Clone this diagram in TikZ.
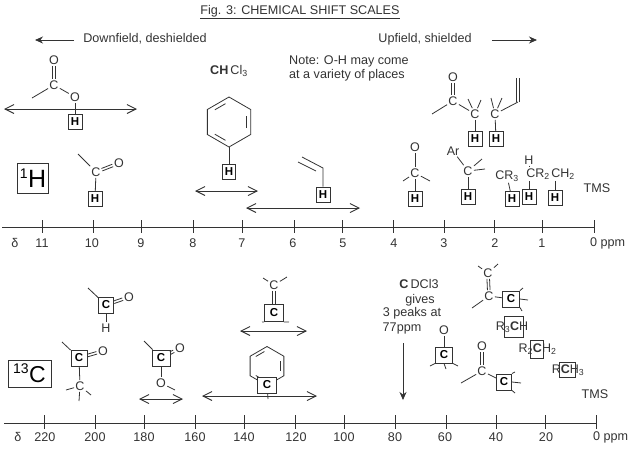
\documentclass[tikz,border=0pt]{standalone}
\usepackage{fontspec}
\setmainfont{Liberation Sans}
\usetikzlibrary{arrows.meta,shapes.geometric,calc}
\definecolor{ink}{gray}{0.2}
\tikzset{
	lbl/.style={inner sep=0pt,text=ink,font=\fontsize{12.6}{14}\selectfont},
	atom/.style={inner sep=1.2pt,text=ink,font=\fontsize{12.5}{12.5}\selectfont},
	bond/.style={line width=0.8pt,draw=ink},
	hbox/.style={draw=ink,line width=0.9pt,fill=white,inner sep=0pt,minimum width=14pt,minimum height=15pt,font=\fontsize{11.5}{11.5}\selectfont\bfseries},
	cbox/.style={draw=ink,line width=0.9pt,fill=white,inner sep=0pt,minimum width=16pt,minimum height=16pt,font=\fontsize{11.5}{11.5}\selectfont\bfseries},
	openbox/.style={draw=ink,line width=0.9pt,inner sep=0pt},
	nucbox/.style={draw=ink,line width=0.8pt,inner sep=0pt,text=black},
	spanarrow/.style={{Straight Barb[length=9pt,width=9pt]}-{Straight Barb[length=9pt,width=9pt]},line width=0.9pt,draw=ink},
	scaleline/.style={line width=0.8pt,draw=ink},
}
\newcommand{\stub}[3]{\coordinate (#2) at (#3); \draw[bond] (#1) -- (#2);}
\newcommand{\dblbond}[2]{\path (#1) -- (#2) coordinate[pos=0] (dbs) coordinate[pos=1] (dbe);
	\draw[bond] ($(dbs)!1.3pt!90:(dbe)$) -- ($(dbe)!1.3pt!-90:(dbs)$);
	\draw[bond] ($(dbs)!1.3pt!-90:(dbe)$) -- ($(dbe)!1.3pt!90:(dbs)$);}
\begin{document}
\begin{tikzpicture}[>={Stealth[length=8pt,width=7pt]},x=1pt,y=-1pt]
	\useasboundingbox (0,0) rectangle (630,448);
	\node[lbl] (title) at (300,12) {\underline{Fig. 3: CHEMICAL SHIFT SCALES}};
	
	\node[lbl] (down) at (145,39) {Downfield, deshielded};
	\coordinate (downend) at (35,40);
	\draw[->,bond] (down.west) ++(-9,1) -- (downend);
	\node[lbl] (up) at (425,39) {Upfield, shielded};
	\coordinate (upend) at (537,40);
	\draw[->,bond] (up.east) ++(20,1) -- (upend);
	\node[lbl,align=left,anchor=north west] (note) at (289,55) {Note: O-H may come\\at a variety of places};
	\node[lbl] (chcl) at (229,71) {\textbf{CH}\,Cl\textsubscript{3}};
	
	% proton scale
	\node[nucbox,minimum width=31pt,minimum height=30pt,font=\fontsize{25}{25}\selectfont] (proton) at (33,178) {\textsuperscript{\fontsize{14}{14}\selectfont 1}H};
	\coordinate (pl) at (2,227); \coordinate (pr) at (594,227);
	\draw[scaleline] (pl) -- (pr);
	\foreach \x in {42,93,141,193,242,294,342,393,444,494,542,594}
		\draw[scaleline] (\x,220) -- (\x,233);
	\foreach \x/\t in {15/δ,42/11,92/10,141/9,193/8,242/7,293/6,343/5,394/4,444/3,495/2,542/1}
		\node[lbl] (p\x) at (\x,243) {\t};
	\node[lbl,anchor=west] (pppm) at (590,243) {0 ppm};
	
	% acetate
	\node[atom] (a1) at (54,60) {O};
	\node[atom] (a2) at (54,85) {C};
	\node[atom] (a3) at (75,97) {O};
	\node[hbox] (a4) at (75,122) {H};
	\dblbond{a1}{a2}
	\stub{a2}{a5}{32,98}
	\draw[bond] (a2) -- (a3);
	\draw[bond] (a3) -- (a4);
	\coordinate (ra) at (4,109); \coordinate (rb) at (137,109);
	\draw[spanarrow] (ra) -- (rb);
	
	% aldehyde
	\node[atom] (b1) at (96,172) {C};
	\node[atom] (b2) at (119,163) {O};
	\node[hbox] (b3) at (95,199) {H};
	\stub{b1}{b4}{78,154}
	\dblbond{b1}{b2}
	\draw[bond] (b1) -- (b3);
	
	% aromatic
	\node[regular polygon,regular polygon sides=6,regular polygon rotate=30,minimum size=50pt,inner sep=0pt,draw=ink,line width=0.8pt] (ring) at (229,122) {};
	\foreach \p/\q in {1/2,3/4,5/6}
		\draw[bond,shorten >=4pt,shorten <=4pt] ($(ring.corner \p)!.2!(ring.center)$) -- ($(ring.corner \q)!.2!(ring.center)$);
	\node[hbox,minimum width=13pt] (c1) at (229,172) {H};
	\draw[bond] (ring.corner 4) -- (c1);
	\coordinate (rc) at (195,191); \coordinate (rd) at (258,191);
	\draw[spanarrow] (rc) -- (rd);
	
	% vinyl
	\coordinate (d1) at (302,157); \coordinate (d2) at (323,168);
	\coordinate (d3) at (298,162); \coordinate (d5) at (316,171);
	\node[hbox] (d4) at (323,194.5) {H};
	\draw[bond] (d1) -- (d2) -- (d4);
	\draw[bond] (d3) -- (d5);
	\coordinate (re) at (246,208); \coordinate (rf) at (360,208);
	\draw[spanarrow] (re) -- (rf);
	
	% carbonyl and allyl
	\node[atom] (e1) at (453,77) {O};
	\node[atom] (e2) at (453,101) {C};
	\node[atom] (e3) at (475,114) {C};
	\node[atom] (e4) at (495,114) {C};
	\node[hbox] (e5) at (475,139) {H};
	\node[hbox] (e6) at (496,139) {H};
	\dblbond{e1}{e2}
	\stub{e2}{e7}{432,114}
	\draw[bond] (e2) -- (e3);
	\draw[bond] (e3) -- (e5);
	\draw[bond] (e4) -- (e6);
	\stub{e3}{e8}{468,99}
	\stub{e3}{e9}{481,100}
	\stub{e4}{e10}{491,98}
	\stub{e4}{e11}{502,98}
	\coordinate (e12) at (518,102); \coordinate (e13) at (518,78);
	\draw[bond] (e4) -- (e12);
	\dblbond{e12}{e13}
	
	% alcohol
	\node[atom] (f1) at (415,147) {O};
	\node[atom] (f2) at (415,173) {C};
	\node[hbox] (f3) at (415,199) {H};
	\draw[bond] (f1) -- (f2);
	\draw[bond] (f2) -- (f3);
	\stub{f2}{f4}{403,181}
	\stub{f2}{f5}{430,181}
	
	% benzylic
	\node[atom] (g1) at (453,151) {Ar};
	\node[atom] (g2) at (468,171) {C};
	\node[hbox] (g3) at (468,197) {H};
	\draw[bond] (g1) -- (g2);
	\draw[bond] (g2) -- (g3);
	\stub{g2}{g4}{482,159}
	\stub{g2}{g5}{485,169}
	
	% alkyl
	\node[atom] (h1) at (507,176) {CR\textsubscript{3}};
	\node[hbox] (h2) at (512,199) {H};
	\draw[bond] (h1) -- (h2);
	\node[atom] (h3) at (529,160) {H};
	\node[atom] (h4) at (538,174) {CR\textsubscript{2}};
	\node[hbox] (h5) at (529,197) {H};
	\draw[bond] (h3) -- (h3 |- h4.north);
	\draw[bond] (h5 |- h4.south) -- (h5);
	\node[atom] (h6) at (563,174) {CH\textsubscript{2}};
	\node[hbox] (h7) at (555,198) {H};
	\draw[bond] (h7 |- h6.south) -- (h7);
	\node[lbl] (ptms) at (597,188) {TMS};
	
	% carbon scale
	\node[nucbox,minimum width=43pt,minimum height=27pt,font=\fontsize{23}{23}\selectfont] (carbon) at (29.5,373.5) {\textsuperscript{\fontsize{14}{14}\selectfont 13}C};
	\coordinate (cl) at (4,423); \coordinate (cr) at (596,423);
	\draw[scaleline] (cl) -- (cr);
	\foreach \x in {44,95,144,195,244,295,344,395,446,496,545,596}
		\draw[scaleline] (\x,415) -- (\x,429);
	\foreach \x/\t in {18/δ,45/220,95/200,144/180,195/160,244/140,296/120,344/100,395/80,445/60,496/40,546/20}
		\node[lbl] (q\x) at (\x,437) {\t};
	\node[lbl,anchor=west] (cppm) at (593,437) {0 ppm};
	
	% carbon aldehyde
	\node[cbox,minimum width=15pt] (k1) at (106,305) {C};
	\node[atom] (k2) at (129,297) {O};
	\node[atom] (k3) at (106,328) {H};
	\stub{k1}{k4}{88,288}
	\dblbond{k1}{k2}
	\draw[bond] (k1) -- (k3);
	
	% carbon ketone
	\node[cbox] (l1) at (79,358) {C};
	\node[atom] (l2) at (103,351) {O};
	\node[atom] (l3) at (80,386) {C};
	\stub{l1}{l4}{62,342}
	\dblbond{l1}{l2}
	\draw[bond] (l1) -- (l3);
	\stub{l3}{l5}{66,390}
	\stub{l3}{l6}{91,395}
	\stub{l3}{l7}{79,401}
	
	% carbon ester
	\node[cbox,minimum width=18pt] (m1) at (161,358) {C};
	\node[atom] (m2) at (180,348) {O};
	\node[atom] (m3) at (161,383) {O};
	\stub{m1}{m4}{144,341}
	\dblbond{m1}{m2}
	\draw[bond] (m1) -- (m3);
	\stub{m3}{m5}{175,390}
	\coordinate (rg) at (139,399); \coordinate (rh) at (183,399);
	\draw[spanarrow] (rg) -- (rh);
	
	% carbon alkene
	\node[atom] (n1) at (274,285) {C};
	\node[cbox,minimum width=19pt,minimum height=17pt] (n2) at (274,313) {C};
	\dblbond{n1}{n2}
	\stub{n1}{n3}{263,278}
	\stub{n1}{n4}{287,277}
	\stub{n2.south west}{n5}{262,322}
	\stub{n2.south east}{n6}{289,322}
	\coordinate (ri) at (240,331); \coordinate (rj) at (307,331);
	\draw[spanarrow] (ri) -- (rj);
	
	% carbon aromatic
	\node[regular polygon,regular polygon sides=6,regular polygon rotate=30,minimum size=39pt,inner sep=0pt,draw=ink,line width=0.8pt] (sring) at (267,366) {};
	\foreach \p/\q in {1/2,3/4,5/6}
		\draw[bond,shorten >=3pt,shorten <=3pt] ($(sring.corner \p)!.2!(sring.center)$) -- ($(sring.corner \q)!.2!(sring.center)$);
	\node[cbox,minimum width=19pt] (o1) at (267,385) {C};
	\coordinate (o2) at (268,399);
	\draw[bond] (o1) -- (o2);
	\coordinate (rk) at (202,396); \coordinate (rl) at (317,396);
	\draw[spanarrow] (rk) -- (rl);
	
	% solvent
	\node[lbl,align=center] (s0) at (419,284) {\textbf{C}\,DCl3};
	\node[lbl] (s6) at (420,300) {gives};
	\node[lbl] (s7) at (412,313) {3 peaks at};
	\node[lbl] (s8) at (402,328) {77ppm};
	\coordinate (s9) at (403,343); \coordinate (s10) at (403,400);
	\draw[->,bond] (s9) -- (s10);
	
	% carbon c=o alpha
	\node[atom] (s1) at (444,330) {O};
	\node[cbox,minimum width=17pt] (s2) at (444,355) {C};
	\draw[bond] (s1) -- (s2);
	\stub{s2.south west}{s3}{430,366}
	\stub{s2.south east}{s4}{458,366}
	\stub{s2.south}{s5}{446,369}
	
	% carbon allylic
	\node[atom] (t1) at (488,273) {C};
	\node[atom] (t2) at (489,296) {C};
	\node[cbox,minimum width=17pt] (t3) at (511,299) {C};
	\dblbond{t1}{t2}
	\stub{t1}{t4}{478,266}
	\stub{t1}{t5}{498,264}
	\stub{t2}{t6}{472,308}
	\draw[bond] (t2) -- (t3);
	\stub{t3.north east}{t7}{523,288}
	\stub{t3.east}{t8}{528,300}
	\stub{t3.south east}{t9}{522,311}
	
	% carbon ketone alpha
	\node[atom] (u1) at (482,346) {O};
	\node[atom] (u2) at (482,371) {C};
	\node[cbox,minimum width=15pt] (u3) at (504,382) {C};
	\dblbond{u1}{u2}
	\stub{u2}{u4}{461,383}
	\draw[bond] (u2) -- (u3);
	\stub{u3.north east}{u5}{515,372}
	\stub{u3.east}{u6}{521,383}
	\stub{u3.south east}{u7}{515,393}
	
	% carbon alkyl
	\node[openbox,minimum width=19pt,minimum height=21pt] (v1) at (514,327) {};
	\node[atom,inner sep=0pt] (v2) at (512,327) {R\textsubscript{3}\textbf{C}H};
	\node[openbox,minimum width=13pt,minimum height=18pt] (v3) at (537,349) {};
	\node[atom,inner sep=0pt] (v4) at (537.5,349) {R\textsubscript{2}\textbf{C}H\textsubscript{2}};
	\node[openbox,minimum width=16pt,minimum height=15pt] (v5) at (567,370) {};
	\node[atom,inner sep=0pt] (v6) at (568,370) {R\textbf{C}H\textsubscript{3}};
	\node[lbl] (ctms) at (595,394) {TMS};
\end{tikzpicture}
\end{document}
